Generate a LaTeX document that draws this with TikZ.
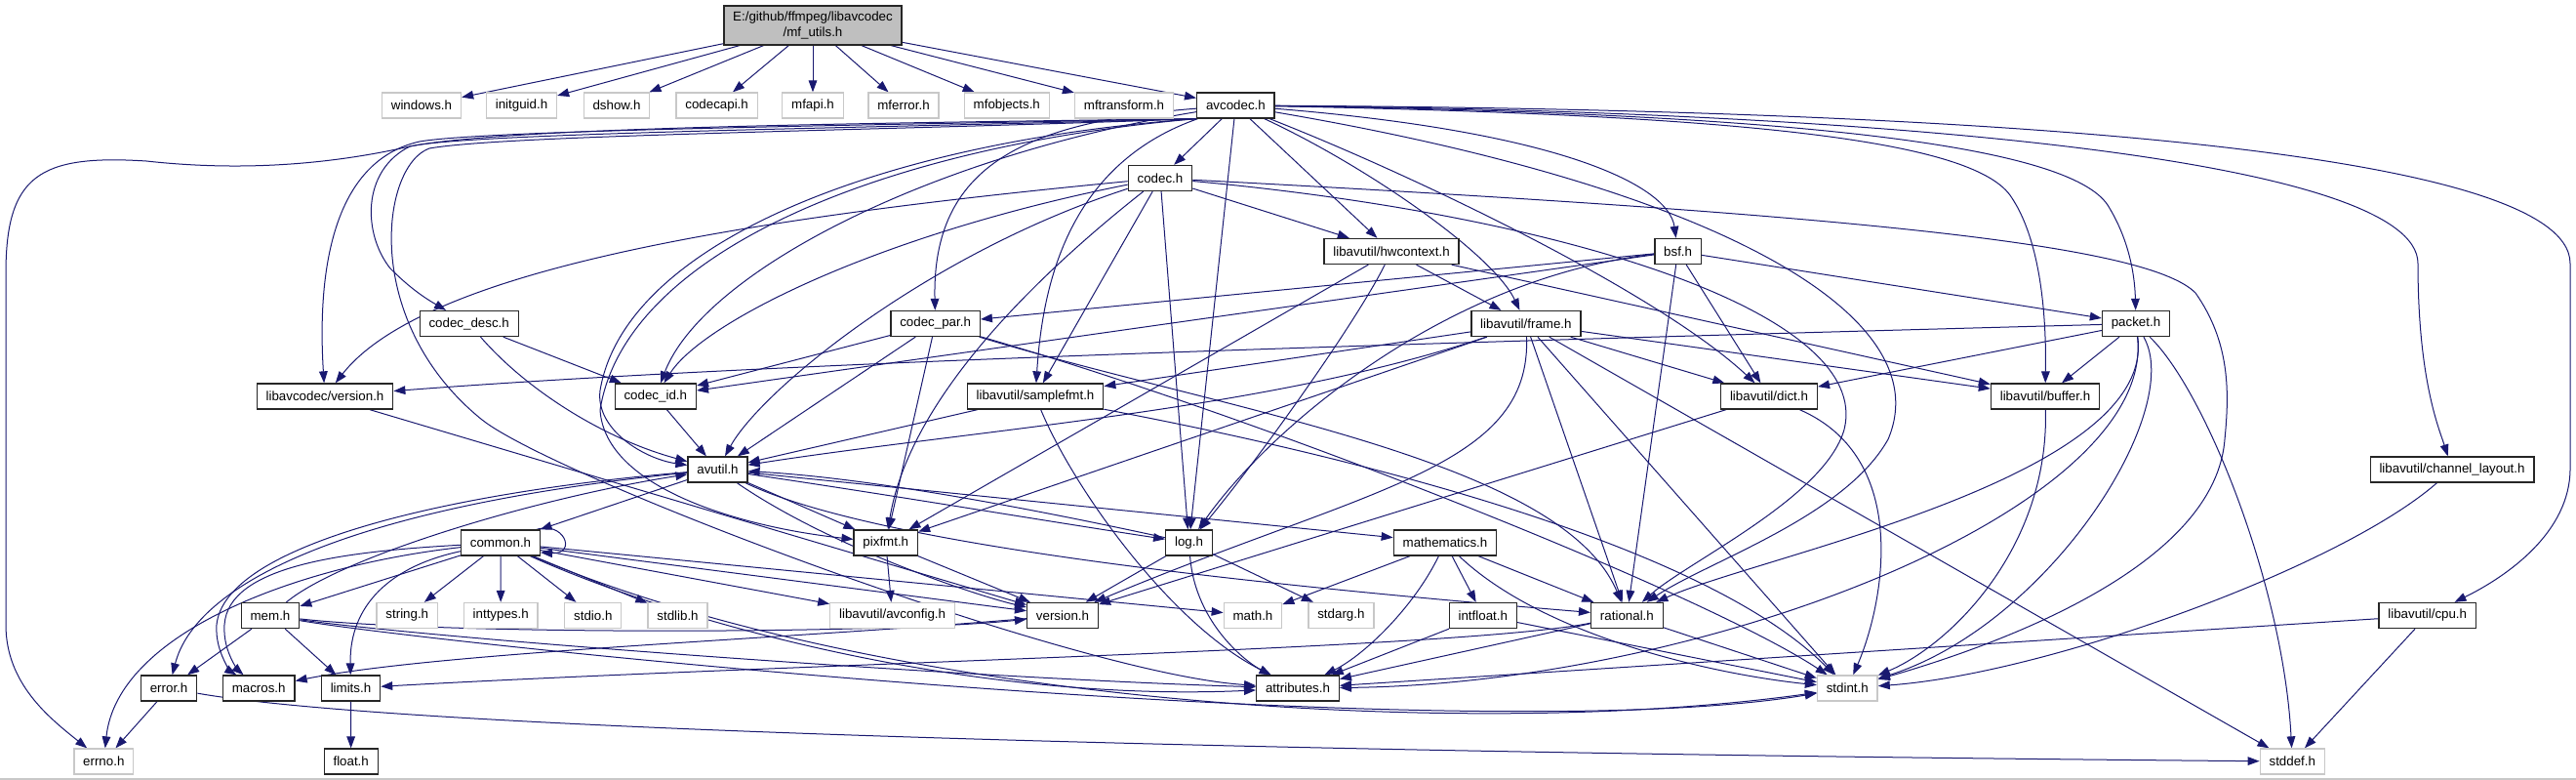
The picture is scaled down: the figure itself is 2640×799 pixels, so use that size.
\documentclass[tikz,border=0pt]{standalone}
\usepackage{fontspec}
\setmainfont{Liberation Sans}
\usetikzlibrary{arrows.meta, backgrounds}
\definecolor{edgeblue}{HTML}{191970}
\definecolor{rootgray}{HTML}{BFBFBF}
\definecolor{sysgray}{HTML}{C8C8C8}

\begin{document}
\begin{tikzpicture}[
    x=0.75pt, y=-0.75pt,
    every node/.style={font=\fontsize{10}{11.5}\selectfont},
    file/.style={rectangle, draw=black!85, fill=white, line width=1pt,
        inner xsep=7pt, inner ysep=0pt, minimum height=19.5pt},
    sys/.style={file, draw=sysgray},
    top/.style={file, fill=rootgray, minimum height=30pt, align=center},
    dep/.style={edgeblue, line width=0.75pt, -{Triangle[length=9pt, width=6.5pt]}},
]
\useasboundingbox (0,0) rectangle (2640,799);
\draw[sysgray, line width=1pt] (0,798) -- (2640,798);

% ============================================================ files, row by row
\node[top] (root) at (833,26) {E:/github/ffmpeg/libavcodec\\/mf\_utils.h};

\node[sys]  (windows)     at (432,108)   {windows.h};
\node[sys]  (initguid)    at (534.5,108) {initguid.h};
\node[sys]  (dshow)       at (632,108)   {dshow.h};
\node[sys]  (codecapi)    at (734.6,108) {codecapi.h};
\node[sys]  (mfapi)       at (833,108)   {mfapi.h};
\node[sys]  (mferror)     at (926,108)   {mferror.h};
\node[sys]  (mfobjects)   at (1031.8,108) {mfobjects.h};
\node[sys]  (mftransform) at (1152,108)  {mftransform.h};
\node[file] (avcodec)     at (1266.4,108) {avcodec.h};

\node[file] (codec)       at (1189,182.5) {codec.h};

\node[file] (hwcontext)   at (1426,257.5) {libavutil/hwcontext.h};
\node[file] (bsf)         at (1719.6,257.5) {bsf.h};

\node[file] (codecdesc)   at (480.7,331.5) {codec\_desc.h};
\node[file] (codecpar)    at (958.6,331.5) {codec\_par.h};
\node[file] (frame)       at (1563.9,331.5) {libavutil/frame.h};
\node[file] (packet)      at (2189,331.5) {packet.h};

\node[file] (lavcversion) at (333,406)   {libavcodec/version.h};
\node[file] (codecid)     at (671.8,406) {codec\_id.h};
\node[file] (samplefmt)   at (1061,406)  {libavutil/samplefmt.h};
\node[file] (dict)        at (1813,406)  {libavutil/dict.h};
\node[file] (buffer)      at (2096,406)  {libavutil/buffer.h};

\node[file] (avutil)      at (735.5,481) {avutil.h};
\node[file] (chlayout)    at (2513,481)  {libavutil/channel\_layout.h};

\node[file] (common)      at (513,556)   {common.h};
\node[file] (pixfmt)      at (907.8,556) {pixfmt.h};
\node[file] (log)         at (1218.5,556) {log.h};
\node[file] (mathematics) at (1481,556)  {mathematics.h};

\node[file] (mem)         at (277,630.5) {mem.h};
\node[sys]  (string)      at (417.3,630.5) {string.h};
\node[sys]  (inttypes)    at (513.2,630.5) {inttypes.h};
\node[sys]  (stdio)       at (607.8,630.5) {stdio.h};
\node[sys]  (stdlib)      at (694.5,630.5) {stdlib.h};
\node[sys]  (avconfig)    at (914.6,630.5) {libavutil/avconfig.h};
\node[file] (version)     at (1089,630.5) {version.h};
\node[sys]  (math)        at (1284,630.5) {math.h};
\node[sys]  (stdarg)      at (1374.4,630.5) {stdarg.h};
\node[file] (intfloat)    at (1519.8,630.5) {intfloat.h};
\node[file] (rational)    at (1667.4,630.5) {rational.h};
\node[file] (cpu)         at (2487.7,630.5) {libavutil/cpu.h};

\node[file] (error)       at (173.1,705) {error.h};
\node[file] (macros)      at (265.2,705) {macros.h};
\node[file] (limits)      at (359.5,705) {limits.h};
\node[file] (attributes)  at (1330,705)  {attributes.h};
\node[sys]  (stdint)      at (1893.3,705) {stdint.h};

\node[sys]  (errno)       at (106.3,780) {errno.h};
\node[file] (float)       at (359.7,780) {float.h};
\node[sys]  (stddef)      at (2349.3,780) {stddef.h};

\begin{scope}[on background layer]
% ============================================================ straight includes
\foreach \a/\b in {root/windows, root/initguid, root/dshow, root/codecapi, root/mfapi,
    root/mferror, root/mfobjects, root/mftransform, root/avcodec,
    avcodec/codec, avcodec/hwcontext, avcodec/log,
    codec/hwcontext, codec/log, codec/samplefmt,
    hwcontext/frame, hwcontext/buffer, hwcontext/pixfmt,
    bsf/dict, bsf/packet, bsf/codecid, bsf/codecpar, bsf/rational,
    codecdesc/codecid, codecpar/codecid, codecpar/avutil, codecpar/pixfmt,
    frame/samplefmt, frame/pixfmt, frame/dict, frame/buffer, frame/rational,
    frame/stdint, frame/stddef, packet/dict, packet/buffer,
    samplefmt/avutil, lavcversion/version, codecid/avutil, dict/version,
    avutil/common, avutil/mathematics, avutil/pixfmt,
    common/mem, common/string, common/inttypes, common/stdio, common/stdlib,
    common/avconfig, common/version, common/math,
    mem/error, mem/limits, error/errno, limits/float,
    rational/attributes, rational/stdint,
    mathematics/math, mathematics/intfloat, mathematics/rational,
    intfloat/stdint, intfloat/attributes, log/stdarg, log/version,
    pixfmt/avconfig, pixfmt/version, cpu/stddef, cpu/attributes}
    \draw[dep] (\a) -- (\b);

% ============================================================ avcodec.h, the long ones
\draw[dep] (avcodec.south west) .. controls (900,126) and (520,130) .. (420,150)
    .. controls (340,168) and (250,176) .. (150,165)
    .. controls (40,158) and (6,180) .. (6,280) -- (6,640)
    .. controls (6,700) and (50,735) .. (errno);
\draw[dep] (avcodec.south west) .. controls (900,128) and (500,133) .. (430,145)
    .. controls (340,165) and (325,280) .. (lavcversion);
\draw[dep] (avcodec.south west) .. controls (900,131) and (480,136) .. (420,150)
    .. controls (370,175) and (372,240) .. (400,275)
    .. controls (420,295) and (435,305) .. (codecdesc);
\draw[dep] (avcodec.south west) .. controls (900,134) and (520,138) .. (440,152)
    .. controls (390,170) and (370,330) .. (494,430)
    .. controls (570,490) and (1100,690) .. (attributes);
\draw[dep] (avcodec.south west) .. controls (900,145) and (640,250) .. (615,400)
    .. controls (610,440) and (660,470) .. (avutil);
\draw[dep] (avcodec.south west) .. controls (900,150) and (640,260) .. (615,420)
    .. controls (620,500) and (760,540) .. (pixfmt);
\draw[dep] (avcodec) .. controls (1050,125) and (955,170) .. (codecpar);
\draw[dep] (avcodec) .. controls (950,160) and (720,280) .. (codecid);
\draw[dep] (avcodec) .. controls (1090,170) and (1068,300) .. (samplefmt);
\draw[dep] (avcodec) .. controls (1400,170) and (1530,260) .. (frame);
\draw[dep] (avcodec) .. controls (1600,135) and (1710,190) .. (bsf);
\draw[dep] (avcodec) .. controls (1450,180) and (1700,300) .. (dict);
\draw[dep] (avcodec) .. controls (1750,190) and (1990,320) .. (1935,450)
    .. controls (1890,530) and (1750,575) .. (rational);
\draw[dep] (avcodec) .. controls (1800,118) and (2020,145) .. (2060,200)
    .. controls (2095,250) and (2097,340) .. (buffer);
\draw[dep] (avcodec) .. controls (1850,116) and (2120,150) .. (2160,210)
    .. controls (2185,250) and (2188,290) .. (packet);
\draw[dep] (avcodec) .. controls (1950,114) and (2478,165) .. (2478,270)
    .. controls (2478,390) and (2500,440) .. (chlayout);
\draw[dep] (avcodec) .. controls (2000,112) and (2634,150) .. (2634,270) -- (2634,480)
    .. controls (2634,545) and (2570,590) .. (cpu);

% ============================================================ codec.h
\draw[dep] (codec) .. controls (800,220) and (440,270) .. (lavcversion);
\draw[dep] (codec) .. controls (900,240) and (720,330) .. (codecid);
\draw[dep] (codec) .. controls (950,260) and (780,400) .. (avutil);
\draw[dep] (codec) .. controls (1040,300) and (930,420) .. (pixfmt);
\draw[dep] (codec) .. controls (1600,220) and (1920,320) .. (1890,440)
    .. controls (1870,510) and (1730,575) .. (rational);
\draw[dep] (codec) .. controls (1900,220) and (2200,250) .. (2250,300)
    .. controls (2285,350) and (2285,400) .. (2280,450)
    .. controls (2270,580) and (2050,660) .. (stdint);

% ============================================================ middle rows
\draw[dep] (hwcontext) .. controls (1390,330) and (1290,470) .. (log);
\draw[dep] (bsf) .. controls (1480,285) and (1300,440) .. (log);
\draw[dep] (codecdesc) .. controls (540,400) and (620,450) .. (avutil);
\draw[dep] (codecpar) .. controls (1250,420) and (1600,470) .. (rational);
\draw[dep] (codecpar) .. controls (1300,430) and (1750,610) .. (stdint);
\draw[dep] (frame) .. controls (1300,420) and (1000,440) .. (avutil);
\draw[dep] (frame) .. controls (1570,480) and (1400,500) .. (version);
\draw[dep] (packet) .. controls (1500,350) and (800,370) .. (lavcversion);
\draw[dep] (packet) .. controls (2210,490) and (1800,570) .. (rational);
\draw[dep] (packet) .. controls (2210,520) and (1750,700) .. (attributes);
\draw[dep] (packet) .. controls (2240,420) and (2100,640) .. (stdint);
\draw[dep] (packet) .. controls (2260,400) and (2340,600) .. (stddef);
\draw[dep] (samplefmt) .. controls (1100,500) and (1200,640) .. (attributes);
\draw[dep] (samplefmt) .. controls (1400,470) and (1750,560) .. (stdint);
\draw[dep] (dict) .. controls (1960,470) and (1930,620) .. (stdint);
\draw[dep] (buffer) .. controls (2100,560) and (2000,660) .. (stdint);
\draw[dep] (chlayout) .. controls (2400,580) and (2100,690) .. (stdint);

% ============================================================ avutil.h and below
\draw[dep] (avutil) .. controls (350,520) and (200,600) .. (error);
\draw[dep] (avutil) .. controls (450,505) and (230,560) .. (222,640)
    .. controls (220,670) and (240,690) .. (macros);
\draw[dep] (avutil) .. controls (900,505) and (1080,535) .. (log);
\draw[dep] (log) .. controls (1080,526) and (900,490) .. (avutil);
\draw[dep] (avutil) .. controls (900,560) and (1300,600) .. (rational);
\draw[dep] (avutil) .. controls (850,560) and (1000,610) .. (version);

\draw[dep] (common) .. controls (300,580) and (120,650) .. (errno);
\draw[dep] (common) .. controls (350,565) and (234,580) .. (230,640)
    .. controls (228,670) and (248,690) .. (macros);
\draw[dep] (common) .. controls (400,580) and (358,620) .. (limits);
\draw[dep] (common) .. controls (700,640) and (1000,720) .. (attributes);
\draw[dep] (common) .. controls (900,720) and (1500,760) .. (stdint);
\draw[dep] (548,543) .. controls (578,532) and (592,568) .. (554,566);

\draw[dep] (mem) .. controls (350,570) and (550,510) .. (avutil);
\draw[dep] (mem) .. controls (450,655) and (1000,695) .. (attributes);
\draw[dep] (mem) .. controls (450,660) and (1500,770) .. (stdint);
\draw[dep] (mem) .. controls (450,650) and (900,650) .. (version);

\draw[dep] (version) .. controls (800,655) and (450,668) .. (macros);
\draw[dep] (log) .. controls (1225,640) and (1280,680) .. (attributes);
\draw[dep] (mathematics) .. controls (1450,620) and (1400,670) .. (attributes);
\draw[dep] (mathematics) .. controls (1580,650) and (1750,690) .. (stdint);
\draw[dep] (rational) .. controls (1500,665) and (800,680) .. (limits);
\draw[dep] (error) .. controls (400,745) and (1200,770) .. (stddef);
\end{scope}

\end{tikzpicture}
\end{document}
